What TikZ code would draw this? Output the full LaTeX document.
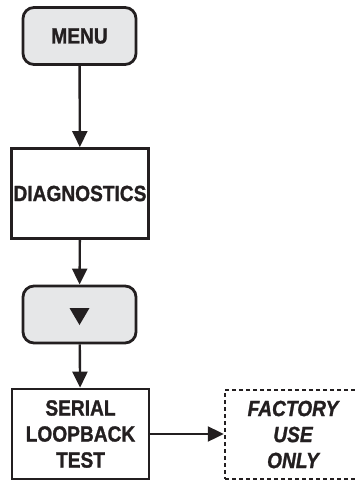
\documentclass[tikz,border=0pt]{standalone}
\usepackage{fontspec}
\setmainfont[FakeStretch=0.87, FakeBold=1.2]{Liberation Sans}
\usepackage{tikz}
\usetikzlibrary{positioning}
\usetikzlibrary{arrows.meta}

\definecolor{keygray}{HTML}{E6E7E8}
\definecolor{inkblack}{HTML}{231F20}

\begin{document}
\begin{tikzpicture}[x=1pt, y=1pt,
  every node/.style={font=\fontsize{22}{26}\selectfont\bfseries, text=inkblack, align=center, inner sep=0pt},
  keybox/.style={draw=inkblack, fill=keygray, line width=2.8pt, rounded corners=11pt, minimum width=113pt, minimum height=57pt},
  menubox/.style={draw=inkblack, line width=2.8pt, minimum width=137pt, minimum height=90pt},
  factorybox/.style={draw=inkblack, line width=2.5pt, dash pattern=on 4pt off 3pt, minimum width=136pt, minimum height=89pt},
  arrow/.style={draw=inkblack, line width=2.4pt, -{Triangle[length=16pt, width=15pt]}}]

\useasboundingbox (0,0) rectangle (354,-481);

% keys and menu items
\node[keybox] (menu) at (79.5,-36) {MENU};
\node[menubox] (diag) at (80,-193.5) {DIAGNOSTICS};
\node[keybox] (down) at (79.5,-314.5) {};
\node[menubox] (serial) at (80.5,-434) {SERIAL\\LOOPBACK\\TEST};
\node[factorybox] (factory) at (293,-434.5) {\itshape FACTORY\\\itshape USE\\\itshape ONLY};

% down key symbol
\fill[inkblack] (69.5,-308) -- (89.5,-308) -- (79.5,-325) -- cycle;

% arrows
\draw[arrow] (menu) -- (diag);
\draw[arrow] (diag) -- (down);
\draw[arrow] (down) -- (serial);
\draw[arrow] (serial.east) -- (serial.east -| factory.west);

\end{tikzpicture}
\end{document}
